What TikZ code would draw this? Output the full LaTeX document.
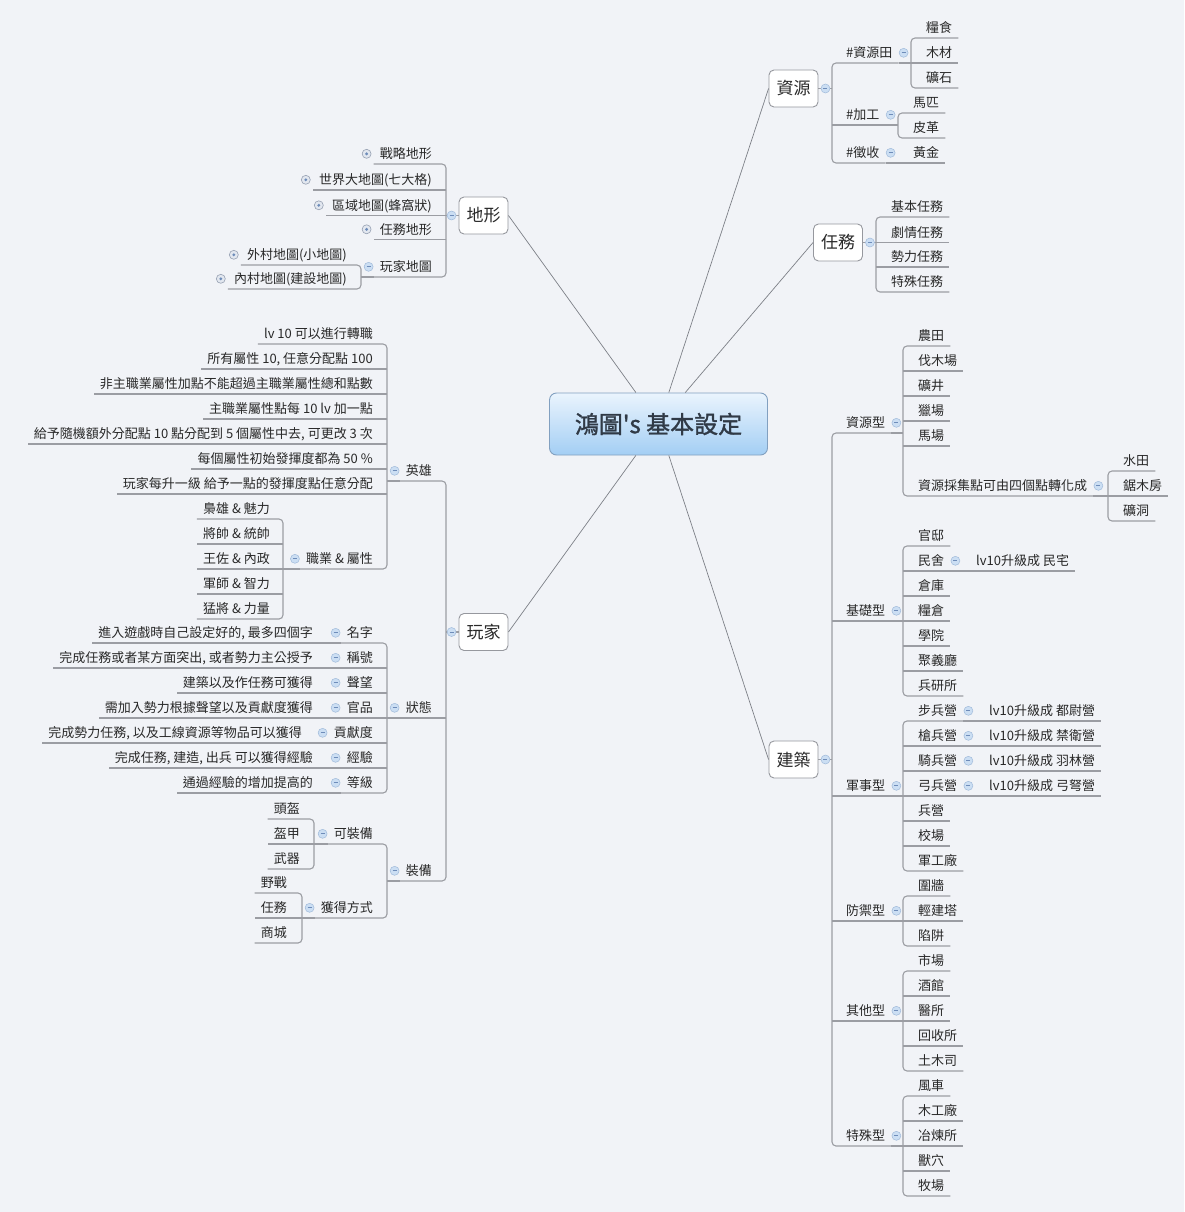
\documentclass[tikz,border=0pt]{standalone}
\usepackage{fontspec}
\setmainfont{Noto Sans CJK TC}
\newfontfamily\titlefont{Noto Sans CJK TC}[FakeBold=1.3]
\definecolor{bgcol}{RGB}{241,243,247}
\definecolor{linecol}{RGB}{155,157,163}
\definecolor{spokecol}{RGB}{125,128,135}
\definecolor{txtcol}{RGB}{40,40,40}
\definecolor{boxline}{RGB}{150,152,158}
\definecolor{foldfill}{RGB}{203,222,243}
\definecolor{folddraw}{RGB}{160,186,218}
\definecolor{foldmark}{RGB}{110,140,185}
\definecolor{unfoldfill}{RGB}{226,231,239}
\definecolor{unfolddraw}{RGB}{150,160,178}
\definecolor{titletop}{RGB}{234,244,253}
\definecolor{titlebot}{RGB}{163,206,244}
\definecolor{titleline}{RGB}{130,160,192}
\definecolor{titletext}{RGB}{48,58,70}
\tikzset{
  rtopic/.style={anchor=south west, inner xsep=6pt, inner ysep=3pt, text height=10pt, text depth=2pt, text=txtcol, font=\fontsize{13}{15}\selectfont},
  ltopic/.style={rtopic, anchor=south east},
  branch/.style={draw=boxline, fill=white, rounded corners=5pt, line width=0.9pt, minimum width=49pt, minimum height=37pt, text=txtcol, font=\fontsize{17}{19}\selectfont},
  central/.style={draw=titleline, rounded corners=7pt, line width=0.9pt, top color=titletop, bottom color=titlebot, minimum width=218pt, minimum height=62pt, text=titletext, font=\titlefont\fontsize{24}{26}\selectfont},
  link/.style={draw=linecol, line width=1.1pt, rounded corners=4pt},
  spoke/.style={draw=spokecol, line width=0.7pt},
  fold/.style={draw=folddraw, fill=foldfill, line width=0.5pt},
  foldbar/.style={draw=foldmark, line width=0.8pt},
  unfold/.style={draw=unfolddraw, fill=unfoldfill, line width=0.6pt}
}
\begin{document}
\begin{tikzpicture}[x=1pt,y=-1pt]
	\fill[bgcol] (0,0) rectangle (1184,1212);

	\node[central] (main) at (658.5,424) {鴻圖\textquotesingle s 基本設定};
	\node[branch] (ziyuan) at (793.5,88.5) {資源};
	\node[branch] (renwu) at (838,242.5) {任務};
	\node[branch] (jianzhu) at (793.5,759.5) {建築};
	\node[branch] (dixing) at (483.5,215.5) {地形};
	\node[branch] (wanjia) at (483.5,632) {玩家};

	\draw[spoke] (main) -- (ziyuan.west);
	\draw[spoke] (main) -- (renwu.west);
	\draw[spoke] (main) -- (jianzhu.west);
	\draw[spoke] (main) -- (dixing.east);
	\draw[spoke] (main) -- (wanjia.east);

	\node[rtopic] (zyt) at (840,63) {\#資源田};
	\node[rtopic] (jg) at (840,125) {\#加工};
	\node[rtopic] (zs) at (840,163) {\#徵收};
	\node[rtopic] (lsh) at (920,38) {糧食};
	\node[rtopic] (mc) at (920,63) {木材};
	\node[rtopic] (ks) at (920,88) {礦石};
	\node[rtopic] (mp) at (907,113) {馬匹};
	\node[rtopic] (pg) at (907,138) {皮革};
	\node[rtopic] (hj) at (907,163) {黃金};
	\coordinate (ziyuan-j) at (832,88.5);
	\coordinate (zyt-j) at (911,63);
	\coordinate (jg-j) at (898,125);
	\draw[link] (ziyuan.east) -- (ziyuan-j);
	\draw[link] (zyt.south east) -| (ziyuan-j) |- (zs.south east);
	\draw[link] (ziyuan-j |- jg.south east) -- (jg.south east) -- (jg-j);
	\draw[link] (zyt.south east) -- (zyt-j);
	\draw[link] (lsh.south east) -| (zyt-j) |- (ks.south east);
	\draw[link] (zyt-j) -- (mc.south east);
	\draw[link] (mp.south east) -| (jg-j) |- (pg.south east);
	\draw[link] (zs.south east) -- (hj.south east);

	\node[rtopic] (r1) at (885,217) {基本任務};
	\node[rtopic] (r2) at (885,242.5) {劇情任務};
	\node[rtopic] (r3) at (885,267) {勢力任務};
	\node[rtopic] (r4) at (885,292) {特殊任務};
	\coordinate (renwu-j) at (876,242.5);
	\draw[link] (renwu.east) -- (renwu-j);
	\draw[link] (r1.south east) -| (renwu-j) |- (r4.south east);
	\draw[link] (renwu-j) -- (r2.south east);
	\draw[link] (renwu-j |- r3.south east) -- (r3.south east);

	\node[rtopic] (zyx) at (840,433) {資源型};
	\node[rtopic] (jcx) at (840,621) {基礎型};
	\node[rtopic] (jsx) at (840,796) {軍事型};
	\node[rtopic] (fyx) at (840,921) {防禦型};
	\node[rtopic] (qtx) at (840,1021) {其他型};
	\node[rtopic] (tsx) at (840,1146) {特殊型};
	\coordinate (jianzhu-j) at (832,759.5);
	\draw[link] (jianzhu.east) -- (jianzhu-j);
	\draw[link] (zyx.south east) -| (jianzhu-j) |- (tsx.south east);
	\foreach \n in {jcx,jsx,fyx,qtx}
		\draw[link] (jianzhu-j |- \n.south east) -- (\n.south east);

	\node[rtopic] (nt) at (912,346) {農田};
	\node[rtopic] (fmc) at (912,371) {伐木場};
	\node[rtopic] (kj) at (912,396) {礦井};
	\node[rtopic] (lc) at (912,421) {獵場};
	\node[rtopic] (mch) at (912,446) {馬場};
	\node[rtopic] (cjd) at (912,496) {資源採集點可由四個點轉化成};
	\node[rtopic] (st) at (1117,471) {水田};
	\node[rtopic] (jmf) at (1117,496) {鋸木房};
	\node[rtopic] (kd) at (1117,521) {礦洞};
	\coordinate (zyx-j) at (903,433);
	\coordinate (cjd-j) at (1108,496);
	\draw[link] (zyx.south east) -- (zyx-j);
	\draw[link] (nt.south east) -| (zyx-j) |- (cjd.south east);
	\foreach \n in {fmc,kj,lc,mch}
		\draw[link] (zyx-j |- \n.south east) -- (\n.south east);
	\draw[link] (cjd.south east) -- (cjd-j);
	\draw[link] (st.south east) -| (cjd-j) |- (kd.south east);
	\draw[link] (cjd-j) -- (jmf.south east);

	\node[rtopic] (gd) at (912,546) {官邸};
	\node[rtopic] (ms) at (912,571) {民舍};
	\node[rtopic] (ck) at (912,596) {倉庫};
	\node[rtopic] (lcg) at (912,621) {糧倉};
	\node[rtopic] (xy) at (912,646) {學院};
	\node[rtopic] (jyt) at (912,671) {聚義廳};
	\node[rtopic] (byx) at (912,696) {兵研所};
	\node[rtopic] (mz2) at (970,571) {lv10升級成 民宅};
	\coordinate (jcx-j) at (903,621);
	\draw[link] (jcx.south east) -- (jcx-j);
	\draw[link] (gd.south east) -| (jcx-j) |- (byx.south east);
	\foreach \n in {ms,ck,lcg,xy,jyt}
		\draw[link] (jcx-j |- \n.south east) -- (\n.south east);
	\draw[link] (ms.south east) -- (mz2.south east);

	\node[rtopic] (bby) at (912,721) {步兵營};
	\node[rtopic] (qby) at (912,746) {槍兵營};
	\node[rtopic] (qiby) at (912,771) {騎兵營};
	\node[rtopic] (gby) at (912,796) {弓兵營};
	\node[rtopic] (by) at (912,821) {兵營};
	\node[rtopic] (xc) at (912,846) {校場};
	\node[rtopic] (jgc) at (912,871) {軍工廠};
	\node[rtopic] (u1) at (983,721) {lv10升級成 都尉營};
	\node[rtopic] (u2) at (983,746) {lv10升級成 禁衛營};
	\node[rtopic] (u3) at (983,771) {lv10升級成 羽林營};
	\node[rtopic] (u4) at (983,796) {lv10升級成 弓弩營};
	\coordinate (jsx-j) at (903,796);
	\draw[link] (jsx.south east) -- (jsx-j);
	\draw[link] (bby.south east) -| (jsx-j) |- (jgc.south east);
	\foreach \n in {qby,qiby,gby,by,xc}
		\draw[link] (jsx-j |- \n.south east) -- (\n.south east);
	\foreach \n/\m in {bby/u1,qby/u2,qiby/u3,gby/u4}
		\draw[link] (\n.south east) -- (\m.south east);

	\node[rtopic] (wq) at (912,896) {圍牆};
	\node[rtopic] (qjt) at (912,921) {輕建塔};
	\node[rtopic] (xj) at (912,946) {陷阱};
	\coordinate (fyx-j) at (903,921);
	\draw[link] (fyx.south east) -- (fyx-j);
	\draw[link] (wq.south east) -| (fyx-j) |- (xj.south east);
	\draw[link] (fyx-j) -- (qjt.south east);

	\node[rtopic] (sc) at (912,971) {市場};
	\node[rtopic] (jg2) at (912,996) {酒館};
	\node[rtopic] (ys) at (912,1021) {醫所};
	\node[rtopic] (hss) at (912,1046) {回收所};
	\node[rtopic] (tms) at (912,1071) {土木司};
	\coordinate (qtx-j) at (903,1021);
	\draw[link] (qtx.south east) -- (qtx-j);
	\draw[link] (sc.south east) -| (qtx-j) |- (tms.south east);
	\foreach \n in {jg2,ys,hss}
		\draw[link] (qtx-j |- \n.south east) -- (\n.south east);

	\node[rtopic] (fc) at (912,1096) {風車};
	\node[rtopic] (mgc) at (912,1121) {木工廠};
	\node[rtopic] (yls) at (912,1146) {冶煉所};
	\node[rtopic] (sx) at (912,1171) {獸穴};
	\node[rtopic] (mc2) at (912,1196) {牧場};
	\coordinate (tsx-j) at (903,1146);
	\draw[link] (tsx.south east) -- (tsx-j);
	\draw[link] (fc.south east) -| (tsx-j) |- (mc2.south east);
	\foreach \n in {mgc,yls,sx}
		\draw[link] (tsx-j |- \n.south east) -- (\n.south east);

	\node[ltopic] (zlds) at (438,164) {戰略地形};
	\node[ltopic] (sjdt) at (438,190) {世界大地圖(七大格)};
	\node[ltopic] (qydt) at (438,215.5) {區域地圖(蜂窩狀)};
	\node[ltopic] (rwdx) at (438,239.5) {任務地形};
	\node[ltopic] (wjdt) at (438,277) {玩家地圖};
	\node[ltopic] (wcdt) at (353,265) {外村地圖(小地圖)};
	\node[ltopic] (ncdt) at (353,289) {內村地圖(建設地圖)};
	\coordinate (dixing-j) at (446,215.5);
	\coordinate (wjdt-j) at (361,277);
	\draw[link] (dixing.west) -- (dixing-j);
	\draw[link] (zlds.south west) -| (dixing-j) |- (wjdt.south west);
	\draw[link] (dixing-j) -- (qydt.south west);
	\foreach \n in {sjdt,rwdx}
		\draw[link] (dixing-j |- \n.south west) -- (\n.south west);
	\draw[link] (wjdt.south west) -- (wjdt-j);
	\draw[link] (wcdt.south west) -| (wjdt-j) |- (ncdt.south west);

	\node[ltopic] (yx) at (438,481) {英雄};
	\node[ltopic] (zt) at (438,718) {狀態};
	\node[ltopic] (zb) at (438,881) {裝備};
	\coordinate (wanjia-j) at (446,632);
	\draw[link] (wanjia.west) -- (wanjia-j);
	\draw[link] (yx.south west) -| (wanjia-j) |- (zb.south west);
	\draw[link] (wanjia-j |- zt.south west) -- (zt.south west);

	\node[ltopic] (h1) at (379,344) {lv 10 可以進行轉職};
	\node[ltopic] (h2) at (379,369) {所有屬性 10, 任意分配點 100};
	\node[ltopic] (h3) at (379,394) {非主職業屬性加點不能超過主職業屬性總和點數};
	\node[ltopic] (h4) at (379,419) {主職業屬性點每 10 lv 加一點};
	\node[ltopic] (h5) at (379,444) {給予隨機額外分配點 10 點分配到 5 個屬性中去, 可更改 3 次};
	\node[ltopic] (h6) at (379,469) {每個屬性初始發揮度都為 50 \%};
	\node[ltopic] (h7) at (379,494) {玩家每升一級 給予一點的發揮度點任意分配};
	\node[ltopic] (zysx) at (379,569) {職業 \& 屬性};
	\node[ltopic] (z1) at (276,519) {梟雄 \& 魅力};
	\node[ltopic] (z2) at (276,544) {將帥 \& 統帥};
	\node[ltopic] (z3) at (276,569) {王佐 \& 內政};
	\node[ltopic] (z4) at (276,594) {軍師 \& 智力};
	\node[ltopic] (z5) at (276,619) {猛將 \& 力量};
	\coordinate (yx-j) at (387,481);
	\coordinate (zysx-j) at (283,569);
	\draw[link] (yx.south west) -- (yx-j);
	\draw[link] (h1.south west) -| (yx-j) |- (zysx.south west);
	\foreach \n in {h2,h3,h4,h5,h6,h7}
		\draw[link] (yx-j |- \n.south west) -- (\n.south west);
	\draw[link] (zysx.south west) -- (zysx-j);
	\draw[link] (z1.south west) -| (zysx-j) |- (z5.south west);
	\foreach \n in {z2,z3,z4}
		\draw[link] (zysx-j |- \n.south west) -- (\n.south west);

	\node[ltopic] (s1) at (379,643) {名字};
	\node[ltopic] (s2) at (379,668) {稱號};
	\node[ltopic] (s3) at (379,693) {聲望};
	\node[ltopic] (s4) at (379,718) {官品};
	\node[ltopic] (s5) at (379,743) {貢獻度};
	\node[ltopic] (s6) at (379,768) {經驗};
	\node[ltopic] (s7) at (379,793) {等級};
	\node[ltopic] (d1) at (319,643) {進入遊戲時自己設定好的, 最多四個字};
	\node[ltopic] (d2) at (319,668) {完成任務或者某方面突出, 或者勢力主公授予};
	\node[ltopic] (d3) at (319,693) {建築以及作任務可獲得};
	\node[ltopic] (d4) at (319,718) {需加入勢力根據聲望以及貢獻度獲得};
	\node[ltopic] (d5) at (308,743) {完成勢力任務, 以及工線資源等物品可以獲得};
	\node[ltopic] (d6) at (319,768) {完成任務, 建造, 出兵 可以獲得經驗};
	\node[ltopic] (d7) at (319,793) {通過經驗的增加提高的};
	\coordinate (zt-j) at (387,718);
	\draw[link] (zt.south west) -- (zt-j);
	\draw[link] (s1.south west) -| (zt-j) |- (s7.south west);
	\foreach \n in {s2,s3,s4,s5,s6}
		\draw[link] (zt-j |- \n.south west) -- (\n.south west);
	\foreach \n/\m in {s1/d1,s2/d2,s3/d3,s4/d4,s5/d5,s6/d6,s7/d7}
		\draw[link] (\n.south west) -- (\m.south west);

	\node[ltopic] (kzb) at (379,844) {可裝備};
	\node[ltopic] (hdfs) at (379,918) {獲得方式};
	\node[ltopic] (e1) at (306,819) {頭盔};
	\node[ltopic] (e2) at (306,844) {盔甲};
	\node[ltopic] (e3) at (306,869) {武器};
	\node[ltopic] (g1) at (293,893) {野戰};
	\node[ltopic] (g2) at (293,918) {任務};
	\node[ltopic] (g3) at (293,943) {商城};
	\coordinate (zb-j) at (387,881);
	\coordinate (kzb-j) at (314,844);
	\coordinate (hdfs-j) at (302,918);
	\draw[link] (zb.south west) -- (zb-j);
	\draw[link] (kzb.south west) -| (zb-j) |- (hdfs.south west);
	\draw[link] (kzb.south west) -- (kzb-j);
	\draw[link] (e1.south west) -| (kzb-j) |- (e3.south west);
	\draw[link] (kzb-j) -- (e2.south west);
	\draw[link] (hdfs.south west) -- (hdfs-j);
	\draw[link] (g1.south west) -| (hdfs-j) |- (g3.south west);
	\draw[link] (hdfs-j) -- (g2.south west);

	\foreach \n in {ziyuan,renwu,jianzhu}{
		\draw[fold] ([xshift=7pt]\n.east) circle (4.5pt);
		\draw[foldbar] ([xshift=5pt]\n.east) -- ([xshift=9pt]\n.east);
	}
	\foreach \n in {dixing,wanjia}{
		\draw[fold] ([xshift=-7pt]\n.west) circle (4.5pt);
		\draw[foldbar] ([xshift=-9pt]\n.west) -- ([xshift=-5pt]\n.west);
	}
	\foreach \n in {zyt,jg,zs,zyx,jcx,jsx,fyx,qtx,tsx,cjd,ms,bby,qby,qiby,gby}{
		\draw[fold] ([xshift=5pt,yshift=1pt]\n.east) circle (4.5pt);
		\draw[foldbar] ([xshift=3pt,yshift=1pt]\n.east) -- ([xshift=7pt,yshift=1pt]\n.east);
	}
	\foreach \n in {wjdt,yx,zysx,zt,s1,s2,s3,s4,s5,s6,s7,zb,kzb,hdfs}{
		\draw[fold] ([xshift=-5pt,yshift=1pt]\n.west) circle (4.5pt);
		\draw[foldbar] ([xshift=-7pt,yshift=1pt]\n.west) -- ([xshift=-3pt,yshift=1pt]\n.west);
	}
	\foreach \n in {zlds,sjdt,qydt,rwdx,wcdt,ncdt}{
		\draw[unfold] ([xshift=-7pt,yshift=1pt]\n.west) circle (4.5pt);
		\fill[foldmark] ([xshift=-7pt,yshift=1pt]\n.west) circle (1.6pt);
	}
\end{tikzpicture}
\end{document}
